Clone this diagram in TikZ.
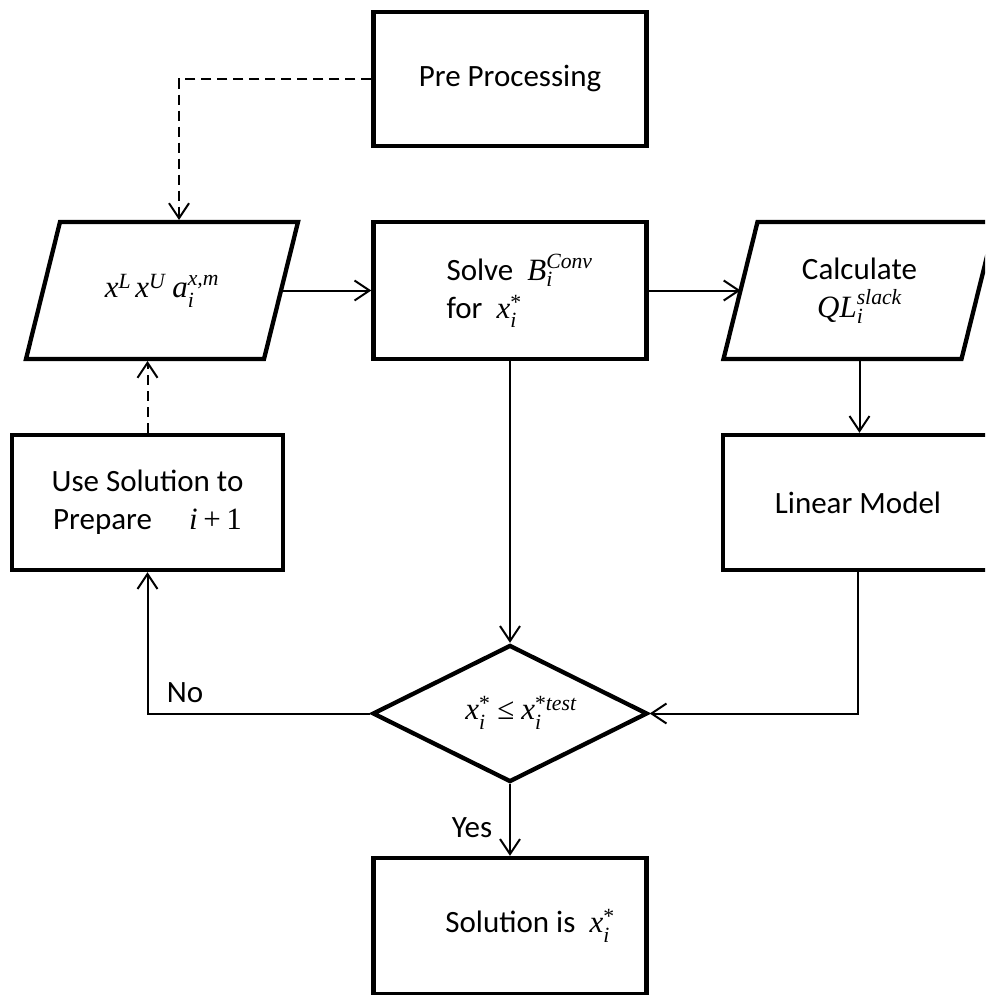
\documentclass[tikz,border=0pt]{standalone}
\usepackage{amsmath}
\usepackage{fontspec}
\setmainfont{Carlito}
\newfontfamily\tms{Liberation Serif}
\usetikzlibrary{arrows.meta,calc,shapes.geometric}

% italic and upright Times-like pieces for the formulas
\newcommand\V[1]{\text{\tms\itshape #1}}
\newcommand\R[1]{\text{\tms #1}}

\tikzset{
  box/.style={draw, line width=4.3pt, minimum width=273pt, minimum height=137pt,
    inner sep=0pt, align=center},
  % frame of a data node; the slanted outline is drawn from its corners
  paraframe/.style={minimum width=272pt, minimum height=137pt, inner sep=0pt,
    outer sep=0pt, align=center},
  outline/.style={line width=4.3pt, line join=miter},
  decision/.style={diamond, draw, line width=4.3pt, minimum width=275pt,
    minimum height=137pt, inner sep=0pt, aspect=2},
  link/.style={line width=2pt, -{Straight Barb[length=15pt,width=20pt]}},
  dlink/.style={link, dash pattern=on 10pt off 6pt},
}

\begin{document}
\begin{tikzpicture}[x=1pt, y=-1pt, font=\fontsize{31}{38}\selectfont]
\useasboundingbox (0,0) rectangle (985,995);
\clip (0,0) rectangle (985,995);

% process boxes
\node[box, minimum height=134pt] (pre) at (510,79) {Pre Processing};
\node[paraframe] (in) at (162,290.5)
  {$\V{x}^{\V{L}}\,\V{x}^{\V{U}}\;\V{a}_{\V{i}}^{\V{x,m}}$};
\node[box] (solve) at (510,290.5) {};
\node[align=left, anchor=west] (solvetext) at (443,291)
  {Solve\ \ $\V{B}_{\V{i}}^{\V{Conv}}$\\for\ \ $\V{x}_{\V{i}}^{\R{*}}$};
\node[paraframe] (calc) at (859.5,290.5) {Calculate\\$\V{QL}_{\V{i}}^{\V{slack}}$};
\node[box, minimum width=271pt, minimum height=135pt] (use) at (147.5,502.5)
  {Use Solution to\\Prepare\hspace{1.2em}$\V{i}\mathbin{\R{+}}\R{1}$};
\node[box, minimum width=270pt, minimum height=135pt] (lin) at (858,502.5) {Linear Model};

% slanted outlines of the two data nodes
\foreach \p in {in,calc}
  \draw[outline] (\p.south west) -- ($(\p.south east)+(-34,0)$)
    -- (\p.north east) -- ($(\p.north west)+(34,0)$) -- cycle;

% decision
\node[decision] (dec) at (510,713.5) {};
\node (dectext) at (521,713)
  {$\V{x}_{\V{i}}^{\R{*}}\mathrel{\R{≤}}\V{x}_{\V{i}}^{\R{*}\V{test}}$};

% result
\node[box, minimum height=136pt] (sol) at (510,926) {};
\node (soltext) at (530,926) {Solution is\ \ $\V{x}_{\V{i}}^{\R{*}}$};

% branch labels
\node (no) at (185,693) {No};
\node (yes) at (472,828) {Yes};

% connectors
\draw[dlink] (pre.west) -| ($(in.north)+(17,-2)$);
\draw[link] ($(in.east)+(-17,0)$) -- (solve.west);
\draw[link] (solve.east) -- ($(calc.west)+(17,0)$);
\draw[link] (calc.south) -- (calc.south |- lin.north);
\draw[link] (lin.south) |- (dec.east);
\draw[link] (solve.south) -- (dec.north);
\draw[link] (dec.west) -| (use.south);
\draw[dlink] (use.north) -- ($(use.north |- in.south)+(0,2)$);
\draw[link] (dec.south) -- (sol.north);
\end{tikzpicture}
\end{document}
